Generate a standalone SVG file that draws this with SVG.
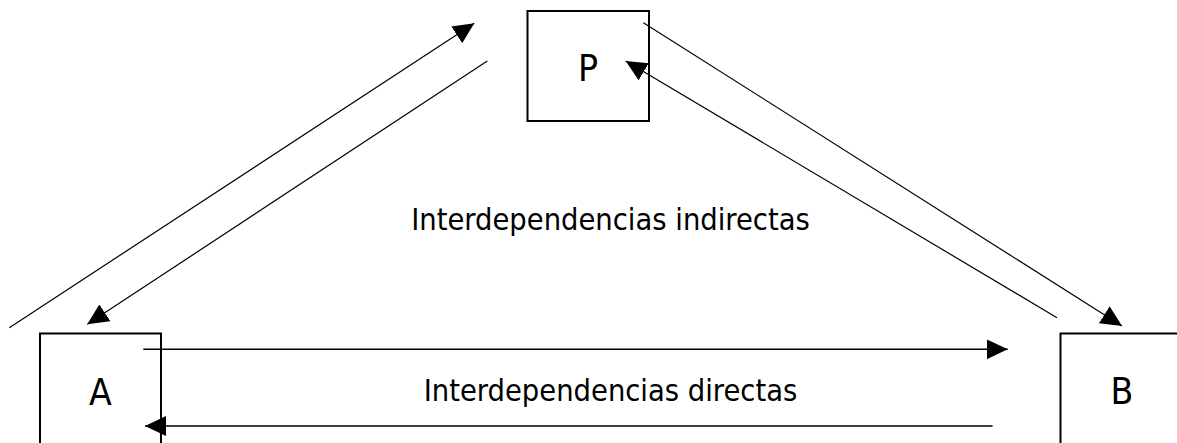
<svg xmlns="http://www.w3.org/2000/svg" width="1177" height="443" viewBox="0 0 1177 443">
<style>
.box{fill:#fff;stroke:#000;stroke-width:2}
.lbl{font-family:"DejaVu Sans Condensed","DejaVu Sans",sans-serif;font-stretch:condensed;fill:#000;text-anchor:middle}
.big{font-size:37px}
.mid{font-size:30.5px}
.con{stroke:#000;fill:none}
.d{stroke-width:1.2}
.h{stroke-width:1.6}
</style>
<defs>
<marker id="ah" markerUnits="userSpaceOnUse" markerWidth="21" markerHeight="20" refX="21" refY="10" orient="auto" viewBox="0 0 21 20">
<path d="M0,0 L21,10 L0,20 z" fill="#000"/>
</marker>
</defs>
<rect width="1177" height="443" fill="#fff"/>
<g id="node-P">
<rect class="box" x="527.5" y="11" width="121.5" height="110"/>
<text class="lbl big" x="588" y="80.5">P</text>
</g>
<g id="node-A">
<rect class="box" x="40" y="333.5" width="121" height="120"/>
<text class="lbl big" x="100.5" y="405">A</text>
</g>
<g id="node-B">
<rect class="box" x="1060.5" y="333.5" width="121" height="120"/>
<text class="lbl big" x="1122" y="404">B</text>
</g>
<g id="connectors">
<line class="con d" x1="9.3" y1="327.7" x2="474.3" y2="23.3" marker-end="url(#ah)"/>
<line class="con d" x1="487.3" y1="61" x2="87.3" y2="324.3" marker-end="url(#ah)"/>
<line class="con d" x1="643.4" y1="22.7" x2="1122" y2="326" marker-end="url(#ah)"/>
<line class="con d" x1="1057" y1="317.7" x2="625.7" y2="61" marker-end="url(#ah)"/>
<line class="con h" x1="143.3" y1="349.3" x2="1007.7" y2="349.3" marker-end="url(#ah)"/>
<line class="con h" x1="992.6" y1="426" x2="145" y2="426" marker-end="url(#ah)"/>
</g>
<g id="labels">
<text class="lbl mid" x="610.5" y="229.5">Interdependencias indirectas</text>
<text class="lbl mid" x="610.5" y="400.5">Interdependencias directas</text>
</g>
</svg>
